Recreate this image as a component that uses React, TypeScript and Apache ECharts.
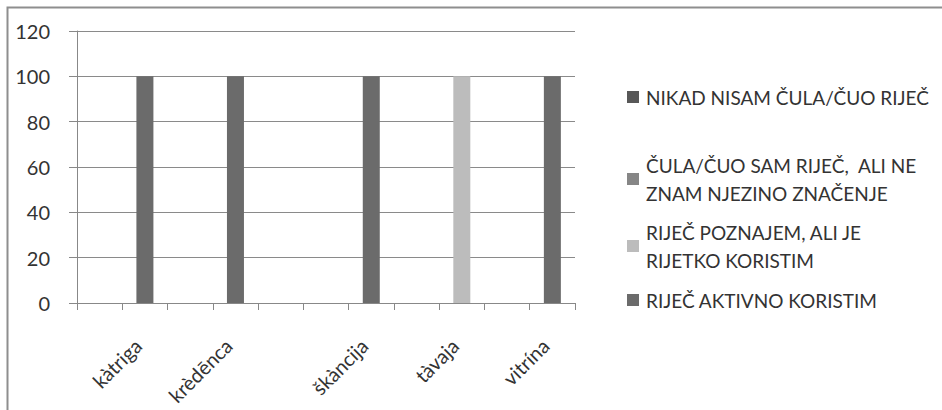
import React, { useEffect, useRef } from "react";
import * as echarts from "echarts";

const categories = ["", "kàtriga", "", "krèdēnca", "", "", "škàncija", "", "tàvaja", "", "vitrína"];
const seriesNames = [
  "NIKAD NISAM ČULA/ČUO RIJEČ",
  "ČULA/ČUO SAM RIJEČ,  ALI NE\nZNAM NJEZINO ZNAČENJE",
  "RIJEČ POZNAJEM, ALI JE\nRIJETKO KORISTIM",
  "RIJEČ AKTIVNO KORISTIM",
];
const neverHeard = [0, 0, 0, 0, 0, 0, 0, 0, 0, 0, 0];
const heardNotKnow = [0, 0, 0, 0, 0, 0, 0, 0, 0, 0, 0];
const knowRarelyUse = [0, 0, 0, 0, 0, 0, 0, 0, 100, 0, 0];
const activelyUse = [0, 100, 0, 100, 0, 0, 100, 0, 0, 0, 100];
const yTicks = [0, 20, 40, 60, 80, 100, 120];

const colors = ["#585858", "#868686", "#bcbcbc", "#6b6b6b"];
const FONT = "Lato";

export default function App() {
  const ref = useRef<HTMLDivElement>(null);
  useEffect(() => {
    if (!ref.current) return;
    const chart = echarts.init(ref.current, undefined, { renderer: "svg" });
    const seriesData = [neverHeard, heardNotKnow, knowRarelyUse, activelyUse];
    const legendTops = [83, 137, 204, 286];
    chart.setOption({
      animation: false,
      backgroundColor: "#ffffff",
      textStyle: { fontFamily: FONT },
      grid: { left: 77, top: 31, width: 498, height: 272, containLabel: false },
      graphic: [
        {
          type: "rect",
          shape: { x: 7.5, y: 7.5, width: 960, height: 440 },
          style: { fill: "none", stroke: "#8e8e8e", lineWidth: 2 },
          silent: true,
        },
      ],
      legend: seriesNames.map((name, i) => ({
        data: [name],
        left: 627,
        top: legendTops[i],
        padding: 0,
        orient: "vertical",
        icon: "rect",
        itemWidth: 12,
        itemHeight: 12,
        itemGap: 0,
        selectedMode: false,
        textStyle: {
          fontFamily: FONT,
          fontSize: 19,
          color: "#333333",
          lineHeight: 28,
          padding: name.includes("\n") ? [28, 0, 0, 2] : [0, 0, 0, 2],
        },
      })),
      xAxis: {
        type: "category",
        data: categories,
        boundaryGap: true,
        axisLine: { show: true, lineStyle: { color: "#888888", width: 1 } },
        axisTick: { show: true, length: 7, alignWithLabel: false, interval: 0, lineStyle: { color: "#888888" } },
        axisLabel: {
          interval: 0,
          rotate: 45,
          margin: 32,
          padding: [0, 10, 0, 0],
          fontFamily: FONT,
          fontSize: 20,
          color: "#333333",
        },
        splitLine: { show: false },
      },
      yAxis: {
        type: "value",
        min: 0,
        max: 120,
        interval: 20,
        axisLine: { show: true, lineStyle: { color: "#888888", width: 1 } },
        axisTick: { show: true, length: 8, inside: false, lineStyle: { color: "#888888" } },
        axisLabel: {
          margin: 27,
          fontFamily: FONT,
          fontSize: 20,
          color: "#333333",
          formatter: (v: number) => (yTicks.includes(v) ? String(v) : ""),
        },
        splitLine: { show: true, lineStyle: { color: "#8a8a8a", width: 1 } },
      },
      series: seriesNames.map((name, i) => ({
        name,
        type: "bar",
        stack: "total",
        data: seriesData[i],
        barWidth: 17,
        itemStyle: { color: colors[i] },
      })),
    });
    return () => chart.dispose();
  }, []);
  return (
    <div
      ref={ref}
      style={{ position: "absolute", left: 0, top: 0, width: 942, height: 410 }}
    />
  );
}
